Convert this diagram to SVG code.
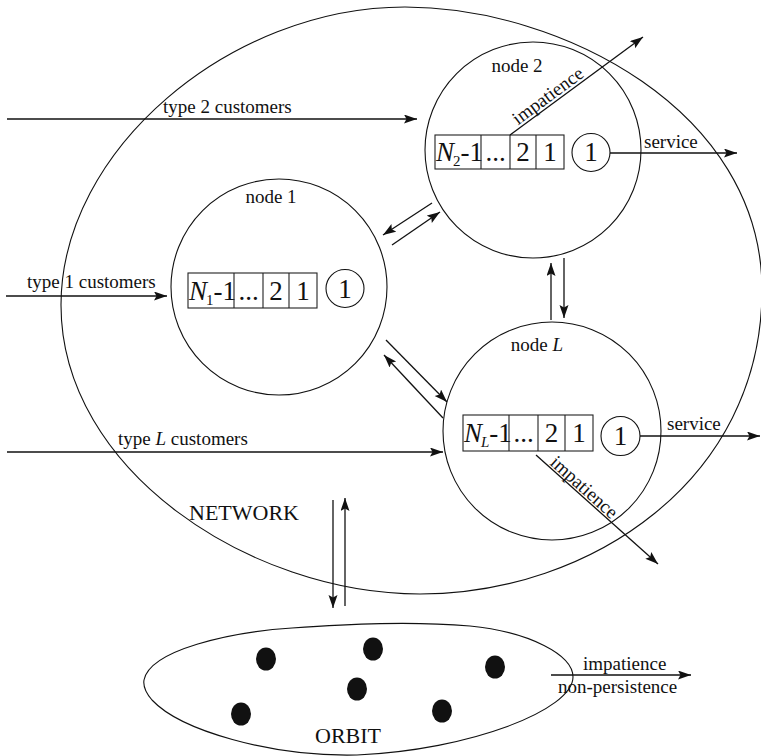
<svg xmlns="http://www.w3.org/2000/svg" width="761" height="756" viewBox="0 0 761 756">
<style>
  .sh{fill:none;stroke:#111;stroke-width:1.1}
  .bx{fill:none;stroke:#222;stroke-width:1.1}
  .ar{fill:none;stroke:#111;stroke-width:1.3;marker-end:url(#ah)}
  .t{font-family:"Liberation Serif","Times New Roman",serif;font-size:19px;fill:#111}
  .big{font-family:"Liberation Serif","Times New Roman",serif;font-size:22px;fill:#111}
  .q{font-family:"Liberation Serif","Times New Roman",serif;font-size:27px;fill:#111}
  .m{text-anchor:middle}
  .dot{fill:#111}
</style>
<defs>
  <marker id="ah" markerUnits="userSpaceOnUse" markerWidth="14" markerHeight="10" refX="13" refY="4.5" orient="auto">
    <path d="M0,0 L13,4.5 L0,9 L2.5,4.5 z" fill="#111"/>
  </marker>
</defs>
<rect width="761" height="756" fill="#fff"/>

<g id="network">
  <path class="sh" d="M405,7 C560,7 762,110 762,290 C762,480 590,594 420,594 C250,594 61,470 61,305 C61,150 230,7 405,7 Z"/>
  <text class="big" x="189" y="520">NETWORK</text>
</g>

<g id="orbit">
  <path class="sh" d="M144,680 C150,650 230,632 292,628 C350,624 410,621 470,626 C530,632 573,655 573,677 C573,710 470,750 357,755 C270,757 180,730 152,700 C146,693 143,686 144,680 Z"/>
  <ellipse class="dot" cx="266" cy="659" rx="10" ry="11.5"/>
  <ellipse class="dot" cx="373" cy="649" rx="10" ry="11.5"/>
  <ellipse class="dot" cx="495" cy="667" rx="10" ry="11.5"/>
  <ellipse class="dot" cx="357" cy="689" rx="10" ry="11.5"/>
  <ellipse class="dot" cx="241" cy="714" rx="10" ry="11.5"/>
  <ellipse class="dot" cx="442" cy="711" rx="10" ry="11.5"/>
  <text class="big" x="315" y="743">ORBIT</text>
</g>

<g id="node1">
  <circle class="sh" cx="279" cy="287" r="108"/>
  <text class="t m" x="271" y="203">node 1</text>
  <rect class="bx" x="188" y="273" width="129" height="35"/>
  <path class="bx" d="M234,273 V308 M263,273 V308 M289,273 V308"/>
  <text class="q" x="189" y="300"><tspan font-style="italic">N</tspan><tspan font-size="15" dx="-1" dy="5">1</tspan><tspan dy="-5">-1</tspan></text>
  <text class="q m" x="248.5" y="300">...</text>
  <text class="q m" x="276" y="300">2</text>
  <text class="q m" x="303" y="300">1</text>
  <circle class="sh" cx="345" cy="288.5" r="19"/>
  <text class="q m" x="345" y="298">1</text>
</g>

<g id="node2">
  <circle class="sh" cx="533" cy="150" r="108"/>
  <text class="t m" x="517" y="72">node 2</text>
  <rect class="bx" x="435" y="135" width="129" height="34"/>
  <path class="bx" d="M481,135 V169 M510,135 V169 M536,135 V169"/>
  <text class="q" x="436" y="161"><tspan font-style="italic">N</tspan><tspan font-size="15" dx="-1" dy="5">2</tspan><tspan dy="-5">-1</tspan></text>
  <text class="q m" x="495.5" y="161">...</text>
  <text class="q m" x="523" y="161">2</text>
  <text class="q m" x="550" y="161">1</text>
  <circle class="sh" cx="591" cy="152.5" r="19"/>
  <text class="q m" x="591" y="161">1</text>
</g>

<g id="nodeL">
  <circle class="sh" cx="552" cy="431" r="109"/>
  <text class="t m" x="537" y="351">node <tspan font-style="italic">L</tspan></text>
  <rect class="bx" x="463" y="415" width="130" height="36"/>
  <path class="bx" d="M509,415 V451 M538,415 V451 M565,415 V451"/>
  <text class="q" x="464" y="442"><tspan font-style="italic">N</tspan><tspan font-size="15" font-style="italic" dx="-1" dy="5">L</tspan><tspan dy="-5">-1</tspan></text>
  <text class="q m" x="523.5" y="442">...</text>
  <text class="q m" x="551.5" y="442">2</text>
  <text class="q m" x="579" y="442">1</text>
  <circle class="sh" cx="620.5" cy="436" r="19.5"/>
  <text class="q m" x="620.5" y="445">1</text>
</g>

<g id="connectors">
  <line class="ar" x1="7" y1="119" x2="417" y2="119"/>
  <line class="ar" x1="6" y1="296" x2="167" y2="296"/>
  <line class="ar" x1="7" y1="452" x2="443" y2="452"/>
  <line class="ar" x1="432" y1="203" x2="383" y2="235"/>
  <line class="ar" x1="392" y1="245" x2="440" y2="212"/>
  <line class="ar" x1="564" y1="258" x2="564" y2="318"/>
  <line class="ar" x1="551" y1="320" x2="551" y2="263"/>
  <line class="ar" x1="386" y1="340" x2="447" y2="402"/>
  <line class="ar" x1="443" y1="418" x2="384" y2="355"/>
  <line class="ar" x1="333" y1="500" x2="333" y2="608"/>
  <line class="ar" x1="345" y1="606" x2="345" y2="498"/>
  <line class="ar" x1="610" y1="153" x2="737" y2="153"/>
  <line class="ar" x1="640" y1="436" x2="760" y2="436"/>
  <line class="ar" x1="510" y1="135" x2="643" y2="37"/>
  <line class="ar" x1="536" y1="455" x2="658" y2="564"/>
  <line class="ar" x1="551" y1="675" x2="691" y2="675"/>
</g>

<g id="labels">
  <text class="t" x="163" y="113">type 2 customers</text>
  <text class="t" x="27" y="288">type 1 customers</text>
  <text class="t" x="118" y="445">type <tspan font-style="italic">L</tspan> customers</text>
  <text class="t" x="644" y="148">service</text>
  <text class="t" x="667" y="430">service</text>
  <text class="t" transform="translate(518,125.5) rotate(-36.4)">impatience</text>
  <text class="t" transform="translate(549,464) rotate(41.8)">impatience</text>
  <text class="t" x="583" y="670">impatience</text>
  <text class="t" x="558" y="693">non-persistence</text>
</g>
</svg>
